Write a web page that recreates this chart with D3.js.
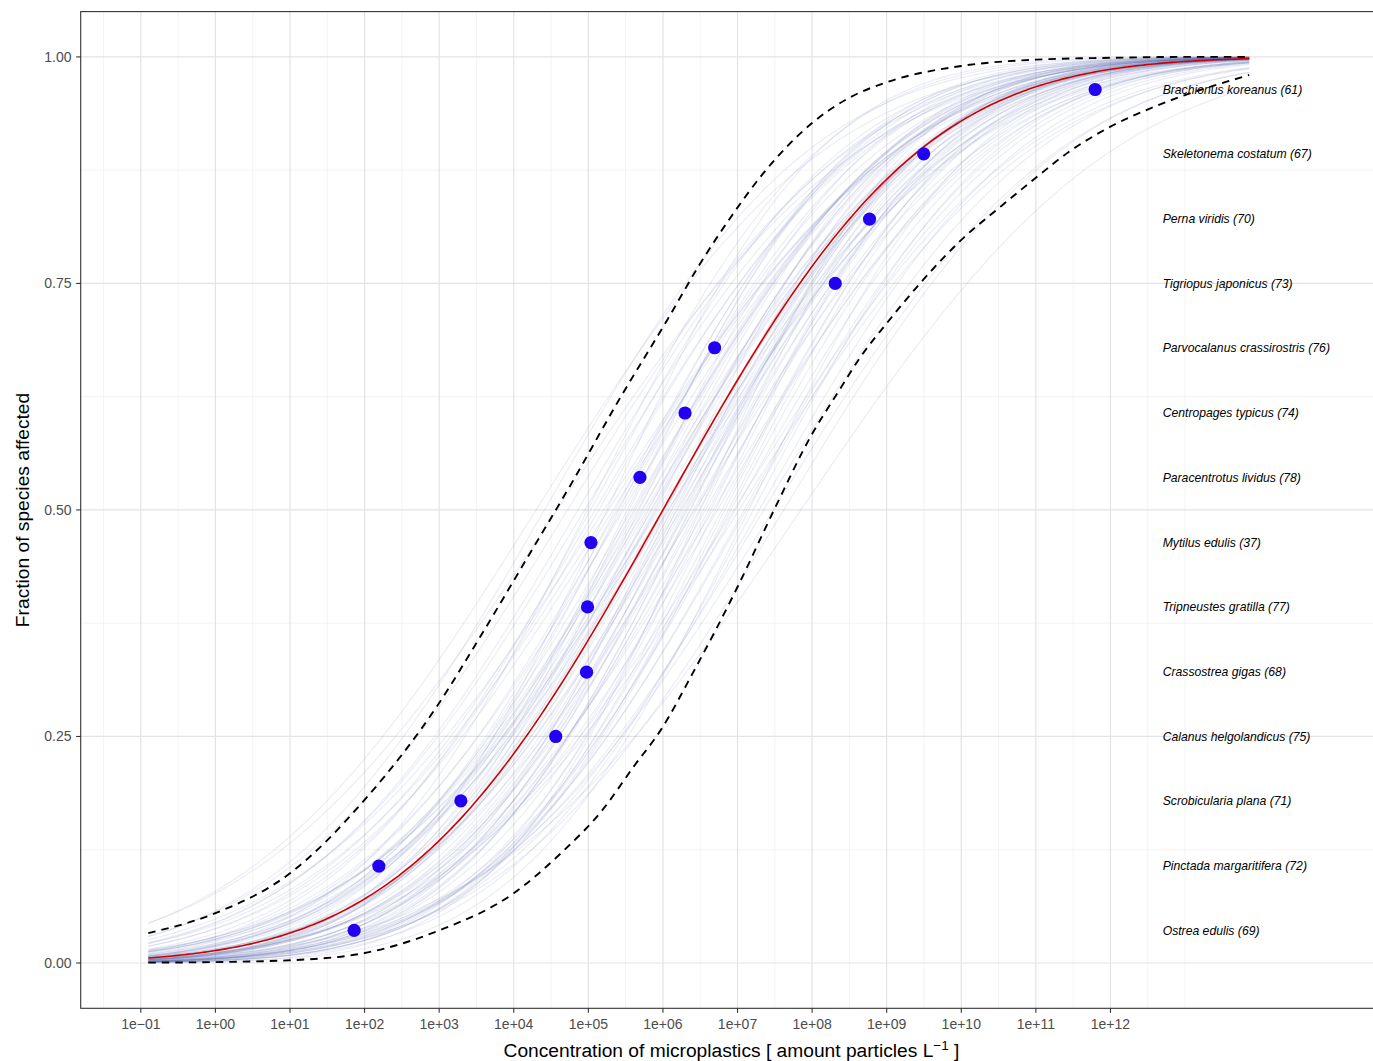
<!DOCTYPE html>
<html><head><meta charset="utf-8">
<script src="https://cdn.jsdelivr.net/npm/d3@7"></script>
<style>body{margin:0;background:#fff;} svg{display:block;}</style>
</head><body>
<svg id="chart" width="1373" height="1061"></svg>
<script>
// ---------- data ----------
const speciesNames = ["Ostrea edulis","Pinctada margaritifera","Scrobicularia plana","Calanus helgolandicus",
  "Crassostrea gigas","Tripneustes gratilla","Mytilus edulis","Paracentrotus lividus","Centropages typicus",
  "Parvocalanus crassirostris","Tigriopus japonicus","Perna viridis","Skeletonema costatum","Brachionus koreanus"];
const speciesRef = [69,72,71,75,68,77,37,78,74,76,73,70,67,61];
// log10 of the concentration (particles per L) of each point
const logConc = [1.860, 2.191, 3.291, 4.563, 4.976, 4.989, 5.035, 5.692, 6.296, 6.693, 8.310, 8.770, 9.496, 11.795];
const fracAffected = [0.036, 0.107, 0.179, 0.250, 0.321, 0.393, 0.464, 0.536, 0.607, 0.679, 0.750, 0.821, 0.893, 0.964];
const labelLogX = 12.7;

// fitted log-normal SSD (log10 mean, log10 sd) and curve range
const fitMean = 6.0, fitSd = 2.72;
const curveLogRange = [-0.9, 13.86];

// bootstrap SSD curves (log10 mean, log10 sd)
const bootMean = [6.02,5.41,6.73,5.88,4.95,6.37,7.12,5.63,6.18,5.27,6.91,5.79,6.45,4.72,6.08,7.35,5.52,6.26,5.95,6.61,
  5.14,6.83,5.71,6.12,7.02,5.36,6.54,5.85,4.58,6.29,6.97,5.47,6.15,5.68,7.48,6.41,5.03,6.70,5.92,6.22,
  5.58,6.88,5.21,6.33,7.21,5.76,6.05,4.86,6.49,5.99,6.64,5.33,7.09,5.81,6.24,5.44,6.79,6.01,4.41,6.36,
  7.62,5.66,6.11,5.09,6.57,5.90,6.95,5.55,6.19,7.29,5.73,6.43,4.99,6.67,5.84,6.31,5.39,7.15,6.07,5.61,
  7.85,4.30,6.50,5.25];
const bootSd = [2.65,2.48,2.81,2.59,2.92,2.44,2.77,2.70,2.38,3.05,2.61,2.86,2.52,2.98,2.74,2.90,2.41,2.67,3.12,2.55,
  2.79,2.46,2.95,2.63,3.08,2.57,2.33,2.84,3.21,2.50,2.71,2.88,2.60,2.43,3.02,2.76,2.66,2.39,2.93,2.54,
  2.82,2.49,3.14,2.69,2.58,2.97,2.36,2.85,2.62,2.78,2.45,3.00,2.72,2.53,2.89,2.64,2.51,3.17,2.80,2.42,
  2.94,2.68,2.47,2.87,2.73,2.56,3.06,2.35,2.83,2.75,2.60,2.99,2.44,2.91,2.66,2.52,2.78,2.40,3.10,2.70,
  3.30,3.05,2.20,2.25];

// 95% band (dashed lines)
const upperBandLog  = [-0.9, 0, 1, 2, 3, 3.55, 4.18, 4.8, 5.4, 6.06, 6.5, 6.9, 7.35, 8.0, 8.5, 9.0, 10.0, 11.0, 12.0, 13.0, 13.86];
const upperBandFrac = [0.033,0.055,0.099,0.180,0.287,0.360,0.447,0.533,0.620,0.710,0.772,0.822,0.872,0.927,0.955,0.972,0.990,0.997,0.999,1.0,1.0];
const lowerBandLog  = [-0.9, 0, 1, 2, 3, 4, 4.63, 5.2, 5.61, 5.97, 6.42, 7.0, 7.49, 7.98, 8.34, 8.65, 9.0, 9.5, 10.0, 10.53, 11.02, 11.44, 12.0, 12.62, 13.86];
const lowerBandFrac = [0.0004,0.001,0.003,0.011,0.036,0.077,0.121,0.170,0.217,0.257,0.323,0.415,0.500,0.581,0.629,0.669,0.706,0.755,0.798,0.835,0.868,0.895,0.923,0.946,0.980];

const xTickExp = [-1,0,1,2,3,4,5,6,7,8,9,10,11,12];
const xTickLabels = ["1e\u221201","1e+00","1e+01","1e+02","1e+03","1e+04","1e+05","1e+06","1e+07","1e+08","1e+09","1e+10","1e+11","1e+12"];
const xMinorExp = [-1.5,-0.5,0.5,1.5,2.5,3.5,4.5,5.5,6.5,7.5,8.5,9.5,10.5,11.5,12.5,13];
const yTicks = [0, 0.25, 0.5, 0.75, 1.0];
const yTickLabels = ["0.00","0.25","0.50","0.75","1.00"];
const yMinor = [0.125, 0.375, 0.625, 0.875];

// ---------- drawing ----------
const FONT = "'Liberation Sans', Arial, Helvetica, sans-serif";
const svg = d3.select("#chart");
const P = {left: 80.7, right: 1374.5, top: 11.6, bottom: 1008.3};

const x = d3.scaleLog().domain([Math.pow(10,-1.806), Math.pow(10,15.54)]).range([P.left, P.right]);
const y = d3.scaleLinear().domain([-0.05, 1.05]).range([P.bottom, P.top]);
const xl = v => x(Math.pow(10, v));

function erf(z){
  const s = z < 0 ? -1 : 1; z = Math.abs(z);
  const t = 1/(1+0.3275911*z);
  const yv = 1 - (((((1.061405429*t - 1.453152027)*t) + 1.421413741)*t - 0.284496736)*t + 0.254829592)*t*Math.exp(-z*z);
  return s*yv;
}
const pnorm = (v, m, s) => 0.5*(1+erf((v-m)/(s*Math.SQRT2)));
const grid = d3.range(curveLogRange[0], curveLogRange[1]+1e-9, 0.04);
if (grid[grid.length-1] < curveLogRange[1]) grid.push(curveLogRange[1]);

svg.append("defs").append("clipPath").attr("id","clip")
  .append("rect").attr("x",P.left).attr("y",P.top).attr("width",P.right-P.left).attr("height",P.bottom-P.top);

const gridG = svg.append("g");
// minor grid
gridG.selectAll(".xm").data(xMinorExp).enter().append("line")
  .attr("x1", d=>xl(d)).attr("x2", d=>xl(d)).attr("y1",P.top).attr("y2",P.bottom)
  .attr("stroke","#ededed").attr("stroke-width",0.6);
gridG.selectAll(".ym").data(yMinor).enter().append("line")
  .attr("y1", d=>y(d)).attr("y2", d=>y(d)).attr("x1",P.left).attr("x2",P.right)
  .attr("stroke","#ededed").attr("stroke-width",0.6);
// major grid
gridG.selectAll(".xM").data(xTickExp).enter().append("line")
  .attr("x1", d=>xl(d)).attr("x2", d=>xl(d)).attr("y1",P.top).attr("y2",P.bottom)
  .attr("stroke","#e3e3e3").attr("stroke-width",1.2);
gridG.selectAll(".yM").data(yTicks).enter().append("line")
  .attr("y1", d=>y(d)).attr("y2", d=>y(d)).attr("x1",P.left).attr("x2",P.right)
  .attr("stroke","#e3e3e3").attr("stroke-width",1.2);

const plotG = svg.append("g").attr("clip-path","url(#clip)");
const line = d3.line().x(d=>xl(d[0])).y(d=>y(d[1]));

// bootstrap curves
bootMean.forEach((m,i)=>{
  const s = bootSd[i];
  plotG.append("path").datum(grid.map(v=>[v, pnorm(v,m,s)]))
    .attr("d", line).attr("fill","none")
    .attr("stroke","#5b6db5").attr("stroke-opacity",0.13).attr("stroke-width",1.1);
});

// fitted curve
plotG.append("path").datum(grid.map(v=>[v, pnorm(v,fitMean,fitSd)]))
  .attr("d", line).attr("fill","none").attr("stroke","#d10000").attr("stroke-width",1.6);

// dashed bands
const bandLine = d3.line().x(d=>xl(d[0])).y(d=>y(d[1])).curve(d3.curveMonotoneX);
[[upperBandLog, upperBandFrac],[lowerBandLog, lowerBandFrac]].forEach(([lx, fy])=>{
  plotG.append("path").datum(lx.map((v,i)=>[v, fy[i]]))
    .attr("d", bandLine).attr("fill","none").attr("stroke","#000")
    .attr("stroke-width",1.9).attr("stroke-dasharray","7.5,6");
});

// points
plotG.selectAll(".pt").data(logConc).enter().append("circle")
  .attr("cx", d=>xl(d)).attr("cy", (d,i)=>y(fracAffected[i])).attr("r",6.6)
  .attr("fill","#2200f2");

// species labels
plotG.selectAll(".lab").data(speciesNames).enter().append("text")
  .attr("x", xl(labelLogX)).attr("y", (d,i)=>y(fracAffected[i])).attr("dy","0.35em")
  .attr("font-family",FONT).attr("font-size","12.2px").attr("font-style","italic").attr("fill","#000")
  .text((d,i)=>`${d} (${speciesRef[i]})`);

// panel border
svg.append("rect").attr("x",P.left).attr("y",P.top).attr("width",P.right-P.left).attr("height",P.bottom-P.top)
  .attr("fill","none").attr("stroke","#333").attr("stroke-width",1.1);

// x axis ticks
const axG = svg.append("g");
axG.selectAll(".xt").data(xTickExp).enter().append("line")
  .attr("x1", d=>xl(d)).attr("x2", d=>xl(d)).attr("y1",P.bottom).attr("y2",P.bottom+4.5)
  .attr("stroke","#333").attr("stroke-width",1.1);
axG.selectAll(".xtl").data(xTickExp).enter().append("text")
  .attr("x", d=>xl(d)).attr("y", 1029).attr("text-anchor","middle")
  .attr("font-family",FONT).attr("font-size","14px").attr("fill","#4d4d4d")
  .text((d,i)=>xTickLabels[i]);
// y axis ticks
axG.selectAll(".yt").data(yTicks).enter().append("line")
  .attr("x1",P.left-4.5).attr("x2",P.left).attr("y1", d=>y(d)).attr("y2", d=>y(d))
  .attr("stroke","#333").attr("stroke-width",1.1);
axG.selectAll(".ytl").data(yTicks).enter().append("text")
  .attr("x", 71.5).attr("y", d=>y(d)).attr("dy","0.35em").attr("text-anchor","end")
  .attr("font-family",FONT).attr("font-size","14px").attr("fill","#4d4d4d")
  .text((d,i)=>yTickLabels[i]);

// axis titles
const xt = svg.append("text").attr("x",731.5).attr("y",1057).attr("text-anchor","middle")
  .attr("font-family",FONT).attr("font-size","19.2px").attr("fill","#000");
xt.append("tspan").text("Concentration of microplastics [ amount particles L");
xt.append("tspan").attr("dy","-7.5").attr("font-size","13.5px").text("\u22121");
xt.append("tspan").attr("dy","7.5").text(" ]");

svg.append("text").attr("transform","translate(29,510) rotate(-90)").attr("text-anchor","middle")
  .attr("font-family",FONT).attr("font-size","19.2px").attr("fill","#000")
  .text("Fraction of species affected");
</script>
</body></html>
